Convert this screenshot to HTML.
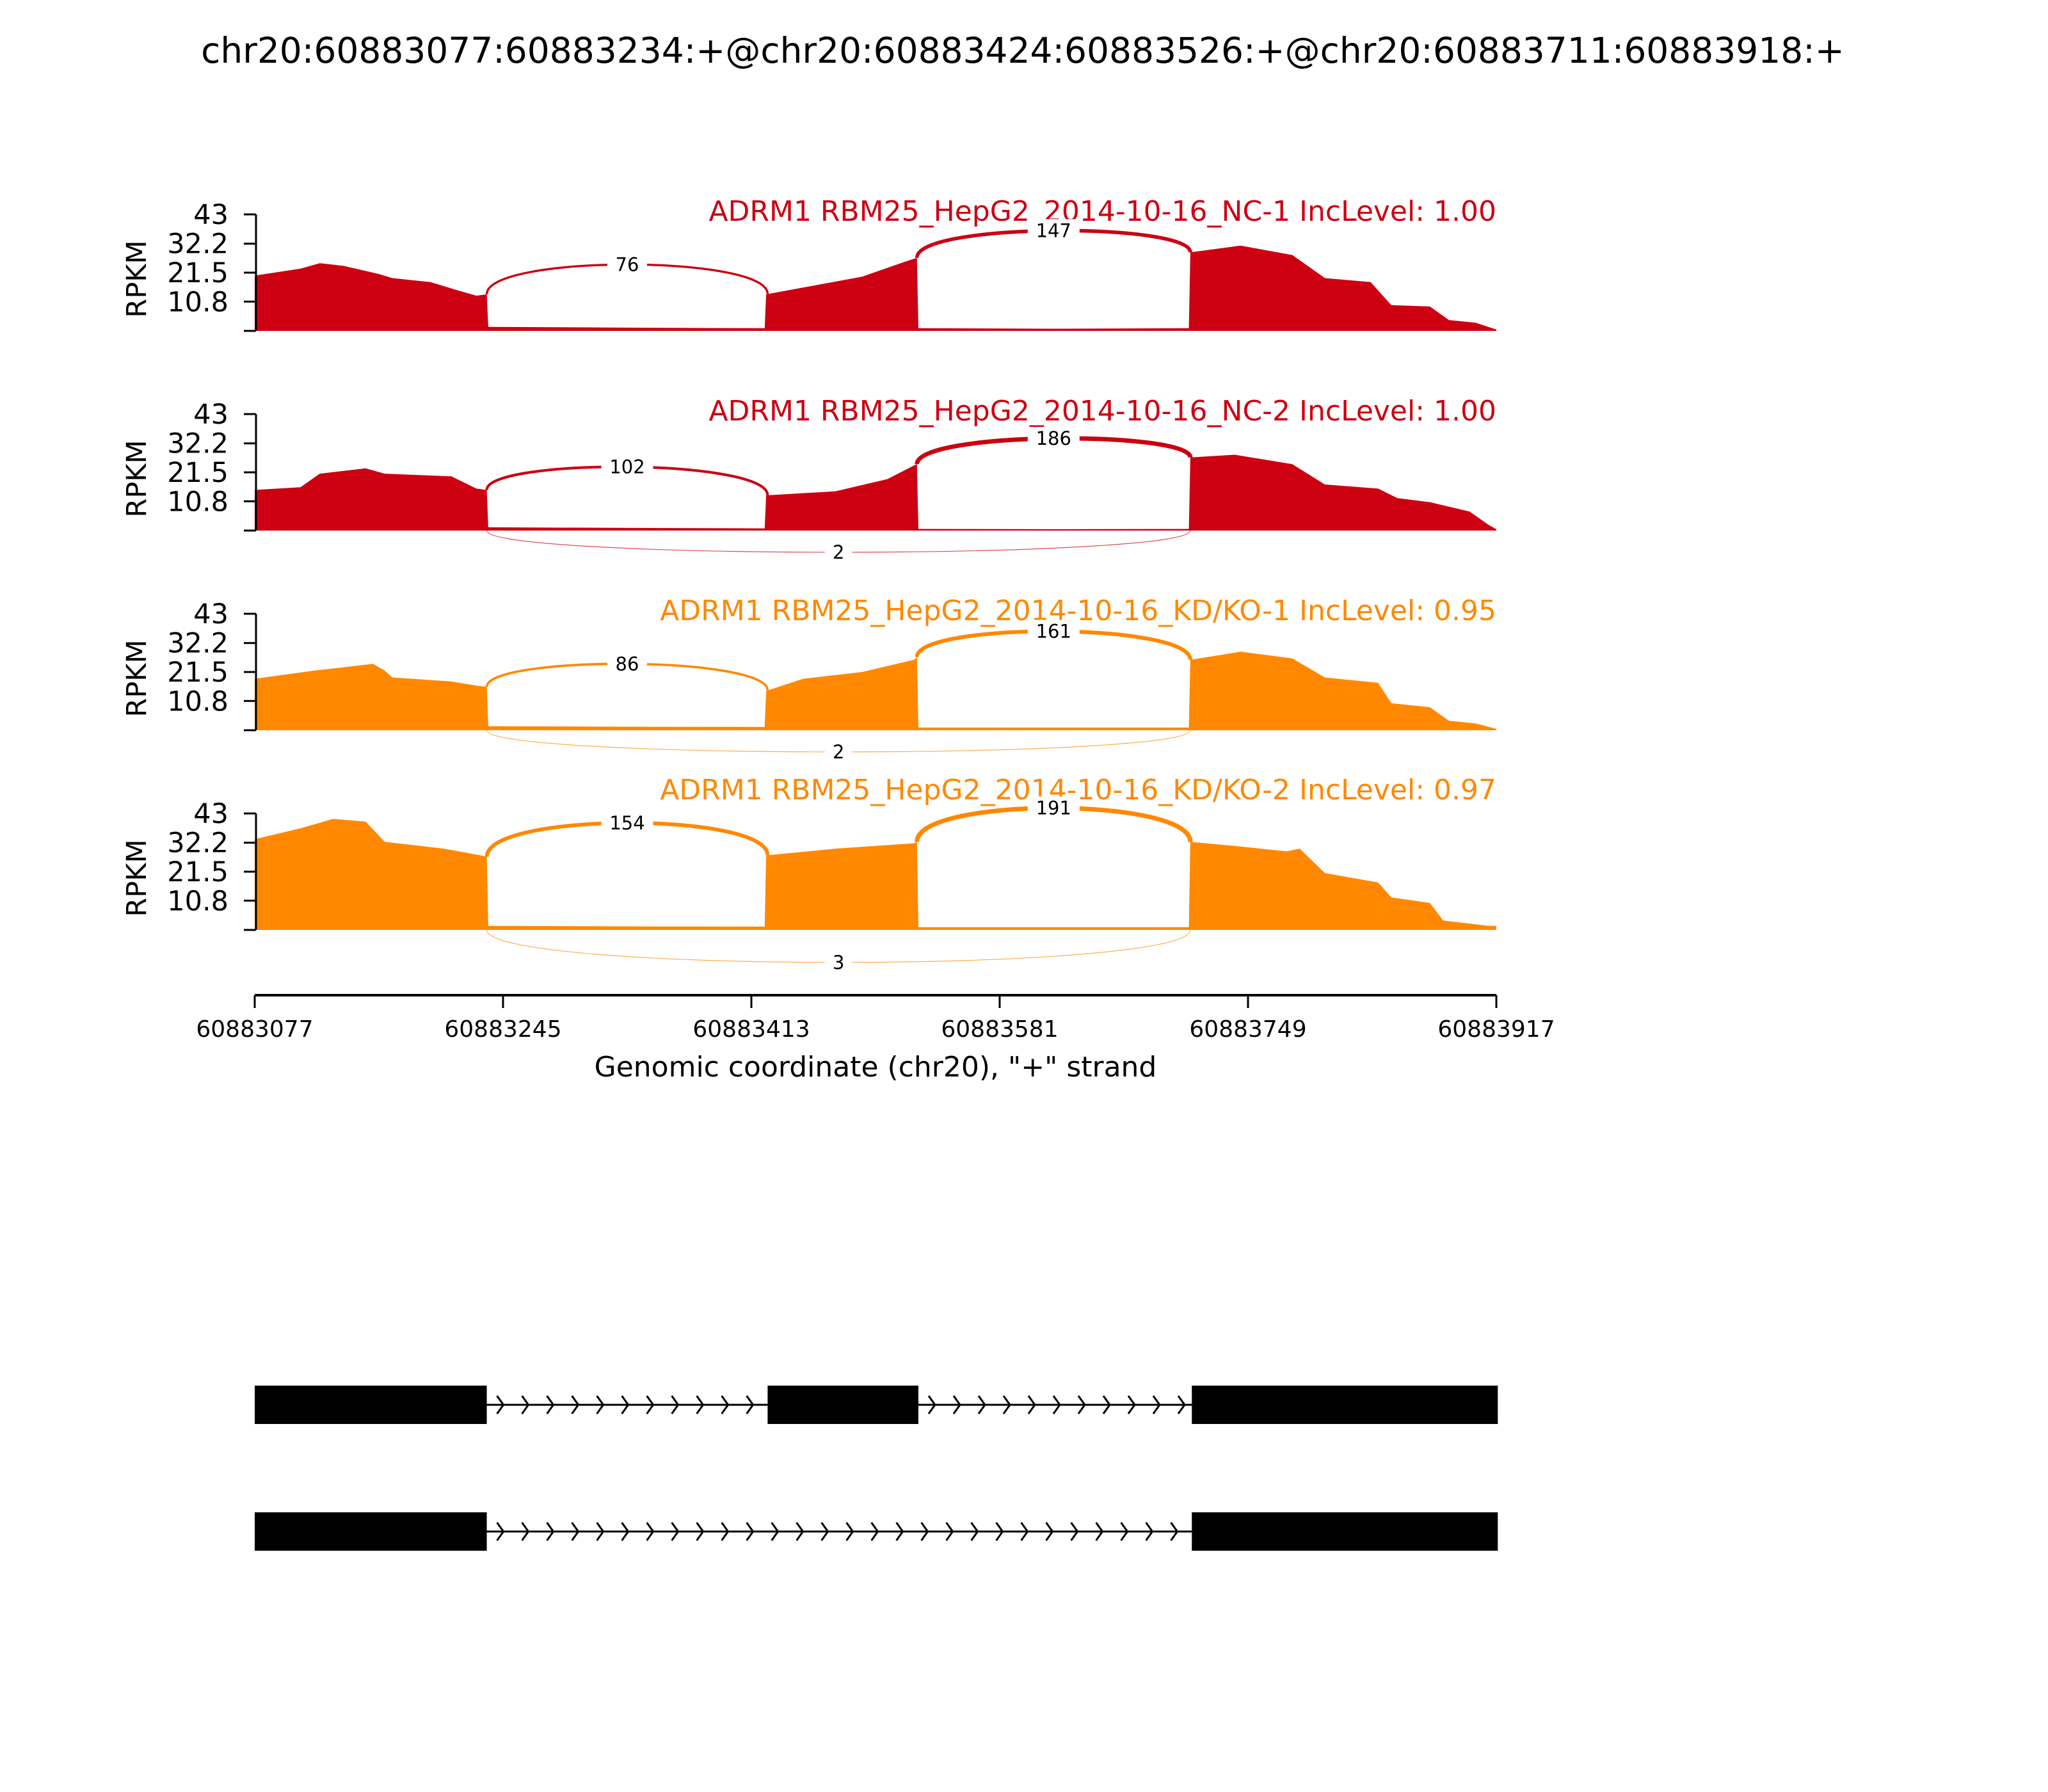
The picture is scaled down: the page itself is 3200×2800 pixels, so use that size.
<!DOCTYPE html>
<html><head><meta charset="utf-8"><style>
html,body{margin:0;padding:0;background:#fff}
svg{display:block;font-family:"DejaVu Sans","Liberation Sans",sans-serif}
</style></head><body>
<svg id="chart" width="3200" height="2800" viewBox="0 0 3200 2800" xmlns="http://www.w3.org/2000/svg">
<text x="1598" y="98" font-size="55" text-anchor="middle" fill="#000">chr20:60883077:60883234:+@chr20:60883424:60883526:+@chr20:60883711:60883918:+</text>
<g id="panels"></g>
<g id="xaxis"></g>
<g id="genes"></g>
</svg>
<script>
const xStart = 60883077, xEnd = 60883917;
const xTicks = [60883077, 60883245, 60883413, 60883581, 60883749, 60883917];
const yTicks = [43, 32.2, 21.5, 10.8, 0];
const yTickLabels = ["43", "32.2", "21.5", "10.8", ""];
const yMax = 43;
const panelTitles = [
 "ADRM1 RBM25_HepG2_2014-10-16_NC-1 IncLevel: 1.00",
 "ADRM1 RBM25_HepG2_2014-10-16_NC-2 IncLevel: 1.00",
 "ADRM1 RBM25_HepG2_2014-10-16_KD/KO-1 IncLevel: 0.95",
 "ADRM1 RBM25_HepG2_2014-10-16_KD/KO-2 IncLevel: 0.97"];
const panelColors = ["#cc0011", "#cc0011", "#ff8800", "#ff8800"];
const covPos1 = [0,1,31,44,60,84,93,119,137,150,157,158,250,345,346,371,411,437,448,449,540,632,633,667,702,724,755,769,795,808,826,840];
const covVal1 = [20,20.5,23,25,24,21,19.5,18,15,13,13.5,1.5,1.2,1,13.5,16,20,25,27,1,0.8,1,29,31.5,28,19.5,18,9.5,9,4,3,0.5];
const covPos2 = [0,31,44,75,88,133,150,157,158,250,345,346,393,428,446,448,449,540,632,633,663,702,724,760,773,795,822,835,840];
const covVal2 = [15,16,21,23,21,20,15.5,15,1.2,1,0.8,13,14.5,19,24,24.5,0.6,0.5,0.6,27,28,24.5,17,15.5,12,10.5,7,2,0.5];
const covPos3 = [0,40,80,88,93,133,150,157,158,250,345,346,371,411,446,448,449,540,632,633,667,702,724,760,769,795,808,826,840];
const covVal3 = [19,22,24.5,22,19.5,18,16.5,16,1.5,1.3,1.2,14.5,19,21.5,26,27,1,1,1,26,29,26.5,19.5,17.5,10,8.5,3.5,2.5,0.5];
const covPos4 = [0,31,53,75,88,128,153,157,158,250,345,346,393,446,448,449,540,632,633,663,698,707,724,760,769,795,804,835,840];
const covVal4 = [33.5,37.5,41,40,32.5,30,27.5,27,1.5,1.3,1.2,27.5,30,32,32.5,1,1,1,32.5,31,29,30,21,17.5,12,10,3.5,1.5,1.5];
const junc1Counts = [76, 102, 86, 154];
const junc2Counts = [147, 186, 161, 191];
const skipCounts = [0, 2, 2, 3];
const junc1Peak = [24.5, 23.5, 24.5, 39.5];
const junc2Peak = [37, 34, 36.5, 45];
const skipDepth = [0, -8, -8, -12];
const junc1 = [157, 347];
const junc2 = [448, 633];
const skipJ = [157, 633];
const transcript1Exons = [[60883077,60883234],[60883424,60883526],[60883711,60883918]];
const transcript2Exons = [[60883077,60883234],[60883711,60883918]];

const NS = "http://www.w3.org/2000/svg";
const X0 = 398, X1 = 2338;
const xs = g => X0 + (g - xStart) / (xEnd - xStart) * (X1 - X0);
const xo = o => xs(xStart + o);
const PT = 335, PH = 182, PSTEP = 312;
const titleOffsets = [10, 10, 10, -22];
function mk(tag, attrs, parent) {
  const e = document.createElementNS(NS, tag);
  for (const k in attrs) e.setAttribute(k, attrs[k]);
  parent.appendChild(e); return e;
}
const covPos = [covPos1, covPos2, covPos3, covPos4];
const covVal = [covVal1, covVal2, covVal3, covVal4];
const panels = document.getElementById("panels");
function interp(p, v, o) {
  for (let i = 0; i < p.length - 1; i++) if (o >= p[i] && o <= p[i+1]) return v[i] + (v[i+1]-v[i])*(o-p[i])/((p[i+1]-p[i])||1);
  return v[v.length-1];
}
for (let i = 0; i < 4; i++) {
  const top = PT + i * PSTEP, bot = top + PH;
  const ys = v => bot - v / yMax * PH;
  const col = panelColors[i];
  const g = mk("g", {}, panels);
  
  
  let d = "M" + xo(covPos[i][0]) + "," + bot;
  for (let k = 0; k < covPos[i].length; k++) d += " L" + xo(covPos[i][k]).toFixed(1) + "," + ys(covVal[i][k]).toFixed(1);
  d += " L" + xo(covPos[i][covPos[i].length-1]) + "," + bot + " Z";
  const area = mk("path", {d: d, fill: col, stroke: "none"}, g);
  
  
  const pt = mk("text", {x: 2338, y: top + titleOffsets[i], "font-size": 44, "text-anchor": "end", fill: col}, g);
  pt.textContent = panelTitles[i];
  
  
  const arcs = [[junc1, junc1Counts[i], junc1Peak[i], true], [junc2, junc2Counts[i], junc2Peak[i], true], [skipJ, skipCounts[i], skipDepth[i], false]];
  arcs.forEach(a => {
    const [j, cnt, pk, up] = a;
    if (!cnt) return;
    const xa = xo(j[0]), xb = xo(j[1]);
    const ya = up ? ys(interp(covPos[i], covVal[i], j[0])) : bot;
    const yb = up ? ys(interp(covPos[i], covVal[i], j[1])) : bot;
    const yp = ys(pk);
    const h = (yp - (ya + yb) / 8) * 4 / 3;
    const lw = 1 + cnt / 32;
    const arc = mk("path", {d: `M${xa},${ya} C${xa},${h} ${xb},${h} ${xb},${yb}`, fill: "none", stroke: col, "stroke-width": up ? lw : 1.2, opacity: up ? 1 : 0.7}, g);
    
    
    const mx = (xa + xb) / 2;
    const tw = String(cnt).length * 19 + 24;
    const bg = mk("rect", {x: mx - tw/2, y: yp - 18, width: tw, height: 36, fill: "#fff"}, g);
    
    
    const t = mk("text", {x: mx, y: yp + 10, "font-size": 29, "text-anchor": "middle", fill: "#000"}, g);
    t.textContent = cnt;
    
    
  });
  const ax = mk("line", {x1: 400, y1: top, x2: 400, y2: bot, stroke: "#000", "stroke-width": 3}, g);
  
  
  yTicks.forEach((v, k) => {
    const y = ys(v);
    const tk = mk("line", {x1: 381, y1: y, x2: 400, y2: y, stroke: "#000", "stroke-width": 3}, g);
    
    
    if (yTickLabels[k]) {
      const tl = mk("text", {x: 357, y: y + 15, "font-size": 43, "text-anchor": "end", fill: "#000"}, g);
      tl.textContent = yTickLabels[k];
      
      
    }
  });
  const yl = mk("text", {x: 228, y: top + PH/2 + 10, "font-size": 43, "text-anchor": "middle", fill: "#000", transform: `rotate(-90 228 ${top + PH/2 + 10})`}, g);
  yl.textContent = "RPKM";
  
  
}
const xa = document.getElementById("xaxis");
const xl = mk("line", {x1: X0, y1: 1555, x2: X1, y2: 1555, stroke: "#000", "stroke-width": 4}, xa);


xTicks.forEach(t => {
  const tk = mk("line", {x1: xs(t), y1: 1555, x2: xs(t), y2: 1575, stroke: "#000", "stroke-width": 3}, xa);
  
  
  const tl = mk("text", {x: xs(t), y: 1620, "font-size": 36, "text-anchor": "middle", fill: "#000"}, xa);
  tl.textContent = t;
  
  
});
const xt = mk("text", {x: 1368, y: 1682, "font-size": 44, "text-anchor": "middle", fill: "#000"}, xa);
xt.textContent = 'Genomic coordinate (chr20), "+" strand';


const gm = document.getElementById("genes");
[[transcript1Exons, 2165], [transcript2Exons, 2363]].forEach(([ex, y0], ti) => {
  const g = mk("g", {}, gm);
  
  
  const ym = y0 + 30;
  for (let k = 0; k < ex.length - 1; k++) {
    const a = xs(ex[k][1]), b = xs(ex[k+1][0]);
    const ln = mk("line", {x1: a, y1: ym, x2: b, y2: ym, stroke: "#000", "stroke-width": 3}, g);
    
    
    for (let cx = a + 26; cx < b - 5; cx += 39) {
      const ch = mk("polyline", {points: `${cx-10},${ym-14} ${cx},${ym} ${cx-10},${ym+14}`, fill: "none", stroke: "#000", "stroke-width": 3}, g);
      
      
    }
  }
  ex.forEach(e => {
    const r = mk("rect", {x: xs(e[0]), y: y0, width: xs(e[1]) - xs(e[0]), height: 60, fill: "#000"}, g);
    
    
  });
});
</script>
</body></html>
